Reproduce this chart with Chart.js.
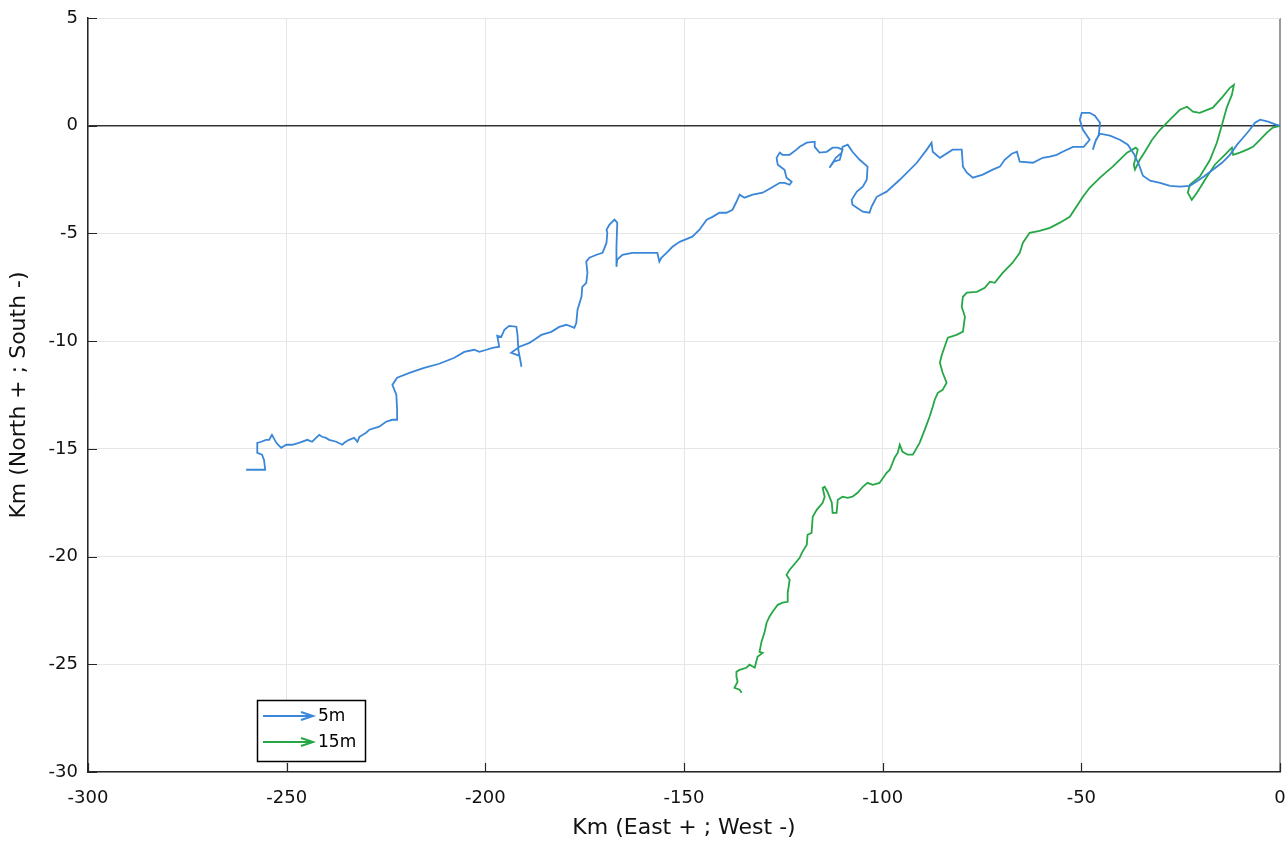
<!DOCTYPE html>
<html><head><meta charset="utf-8">
<script src="https://cdn.jsdelivr.net/npm/chart.js@4.4.1/dist/chart.umd.min.js"></script>
<style>html,body{margin:0;padding:0;background:#fff;}canvas{display:block;}</style>
</head><body>
<canvas id="c" width="1288" height="844"></canvas>
<script>
const seriesNames = ['5m', '15m'];
const xTickValues = [-300, -250, -200, -150, -100, -50, 0];
const yTickValues = [5, 0, -5, -10, -15, -20, -25, -30];
const xTitle = 'Km (East + ; West -)';
const yTitle = 'Km (North + ; South -)';

const blueX = [0,-1.0,-3.0,-5.0,-6.3,-7.6,-9.3,-10.8,-12.6,-14.6,
-16.9,-18.9,-20.7,-22.7,-25.2,-27.7,-30.2,-32.7,-34.5,-35.5,
-36.8,-38.3,-40.3,-42.8,-45.3,-46.3,-47.1,-46.6,-45.6,-45.3,
-46.6,-47.9,-49.9,-50.4,-49.6,-47.9,-49.4,-52.1,-54.7,-56.2,
-57.9,-59.7,-62.2,-65.5,-66.2,-67.5,-69.3,-70.5,-72.3,-74.8,
-77.3,-78.8,-79.8,-80.1,-82.4,-85.6,-87.4,-87.7,-88.9,-91.4,
-95.7,-99.0,-101.5,-102.8,-103.3,-105.0,-107.6,-107.8,-106.5,-105.0,
-104.0,-103.8,-105.8,-107.6,-108.8,-110.1,-110.3,-111.8,-113.4,-112.3,
-110.8,-110.1,-111.3,-112.6,-114.1,-115.9,-117.1,-117.1,-119.1,-120.9,
-121.7,-123.4,-125.2,-125.9,-126.7,-126.4,-124.7,-124.2,-122.9,-123.4,
-124.7,-125.9,-128.0,-130.2,-132.7,-134.8,-136.0,-136.8,-137.8,-139.3,
-141.1,-142.8,-144.3,-146.1,-147.9,-151.1,-152.9,-154.4,-155.7,-156.2,
-156.7,-159.4,-163.0,-165.5,-166.8,-167.0,-167.0,-166.8,-167.5,-168.8,
-169.5,-169.3,-169.5,-170.5,-172.0,-173.8,-174.6,-174.3,-174.6,-175.6,
-175.8,-176.8,-177.1,-177.6,-179.6,-181.4,-183.4,-185.9,-187.7,-188.9,
-191.4,-193.5,-191.4,-190.9,-191.7,-191.9,-192.2,-194.0,-195.2,-196.0,
-197.0,-196.5,-198.2,-199.7,-201.5,-202.8,-205.3,-207.8,-211.6,-215.4,
-219.1,-222.2,-223.4,-222.4,-222.2,-222.2,-223.4,-225.0,-226.7,-229.2,
-230.0,-231.7,-232.2,-233.0,-234.3,-235.5,-236.0,-237.5,-239.3,-240.1,
-241.1,-241.8,-242.6,-243.6,-244.8,-246.9,-248.6,-250.1,-251.4,-252.6,
-253.7,-254.4,-255.2,-256.4,-257.4,-257.4,-256.2,-255.7,-255.4,-256.9,-260.2];
const blueY = [0,0.05,0.19,0.28,0.14,-0.19,-0.56,-0.88,-1.35,-1.72,
-2.04,-2.32,-2.55,-2.79,-2.83,-2.79,-2.65,-2.55,-2.32,-1.81,
-1.30,-0.88,-0.65,-0.46,-0.37,-0.65,-1.11,-0.79,-0.42,0.14,
0.46,0.60,0.60,0.28,-0.19,-0.65,-0.98,-0.98,-1.21,-1.35,
-1.44,-1.49,-1.72,-1.67,-1.21,-1.30,-1.58,-1.90,-2.04,-2.27,
-2.41,-2.18,-1.90,-1.11,-1.11,-1.49,-1.21,-0.79,-1.11,-1.72,
-2.51,-3.06,-3.30,-3.76,-4.04,-3.99,-3.67,-3.44,-3.06,-2.83,
-2.51,-1.90,-1.58,-1.21,-0.88,-0.98,-1.25,-1.49,-1.95,-1.67,
-1.58,-1.11,-1.02,-1.02,-1.21,-1.25,-0.98,-0.74,-0.79,-0.98,
-1.11,-1.35,-1.35,-1.25,-1.49,-1.81,-2.04,-2.41,-2.60,-2.74,
-2.65,-2.65,-2.88,-3.11,-3.20,-3.34,-3.20,-3.53,-3.90,-4.04,
-4.04,-4.23,-4.36,-4.83,-5.15,-5.39,-5.62,-5.90,-6.13,-6.31,
-5.90,-5.90,-5.90,-5.99,-6.22,-6.55,-5.62,-4.50,-4.36,-4.60,
-4.83,-4.97,-5.43,-5.90,-5.99,-6.13,-6.31,-6.83,-7.29,-7.48,
-7.94,-8.54,-9.15,-9.38,-9.24,-9.34,-9.57,-9.71,-9.94,-10.08,
-10.26,-10.54,-10.68,-11.19,-10.40,-9.71,-9.33,-9.29,-9.47,-9.80,
-9.75,-10.26,-10.31,-10.40,-10.50,-10.40,-10.50,-10.77,-11.05,-11.24,
-11.47,-11.70,-12.03,-12.49,-13.19,-13.65,-13.65,-13.74,-13.97,-14.11,
-14.25,-14.44,-14.67,-14.49,-14.58,-14.72,-14.81,-14.67,-14.58,-14.49,
-14.44,-14.35,-14.49,-14.67,-14.58,-14.72,-14.81,-14.81,-14.95,-14.72,
-14.35,-14.58,-14.58,-14.67,-14.72,-15.19,-15.27,-15.51,-15.97,-15.97,-15.97];

const greenX = [0,-1.8,-3.3,-5.0,-6.8,-8.3,-10.1,-11.8,-12.1,-13.9,
-16.4,-18.4,-20.9,-22.2,-23.2,-22.7,-20.2,-17.6,-15.9,-14.6,
-13.4,-12.1,-11.6,-12.6,-14.4,-16.9,-20.2,-21.9,-23.4,-25.2,
-27.7,-30.2,-32.2,-34.0,-35.3,-36.5,-36.8,-35.8,-36.3,-38.5,
-42.1,-45.3,-47.9,-49.6,-52.9,-55.4,-57.9,-60.5,-63.0,-64.7,
-65.5,-67.3,-69.8,-71.8,-73.0,-74.3,-76.3,-78.8,-79.8,-80.1,
-79.3,-79.8,-81.4,-83.6,-84.4,-85.1,-85.6,-84.9,-83.9,-84.9,
-86.1,-86.9,-87.4,-88.2,-89.4,-90.7,-92.4,-93.7,-95.0,-95.7,
-96.2,-97.0,-98.2,-99.0,-100.8,-102.5,-103.8,-105.0,-106.3,-107.6,
-108.8,-110.1,-111.3,-111.6,-112.6,-112.8,-113.9,-114.6,-115.1,-114.6,
-115.1,-116.6,-117.6,-117.9,-118.9,-119.1,-120.2,-120.9,-121.7,-123.4,
-124.2,-123.4,-123.9,-123.9,-125.2,-126.4,-127.7,-128.5,-129.2,-129.7,
-130.5,-131.0,-130.2,-131.5,-132.2,-133.5,-134.3,-136.0,-136.8,-136.8,
-136.5,-137.3,-136.0,-135.5];
const greenY = [0,-0.09,-0.32,-0.65,-0.98,-1.11,-1.25,-1.35,-1.02,-1.35,
-1.81,-2.37,-3.11,-3.44,-3.11,-2.74,-2.37,-1.58,-0.79,0.05,
0.84,1.44,1.90,1.76,1.35,0.84,0.60,0.65,0.88,0.74,
0.28,-0.19,-0.65,-1.21,-1.58,-2.04,-1.81,-1.11,-1.02,-1.25,
-1.90,-2.41,-2.88,-3.30,-4.23,-4.50,-4.74,-4.88,-4.97,-5.43,
-5.90,-6.36,-6.83,-7.29,-7.24,-7.52,-7.71,-7.75,-7.94,-8.40,
-8.87,-9.56,-9.71,-9.84,-10.26,-10.63,-11.00,-11.47,-11.93,-12.26,
-12.40,-12.72,-13.05,-13.51,-14.11,-14.72,-15.27,-15.27,-15.14,-14.81,
-15.18,-15.41,-15.97,-16.11,-16.58,-16.67,-16.58,-16.76,-17.04,-17.22,
-17.27,-17.22,-17.36,-17.97,-17.97,-17.50,-16.99,-16.76,-16.81,-17.22,
-17.50,-17.83,-18.15,-18.90,-18.99,-19.45,-19.78,-20.06,-20.24,-20.61,
-20.85,-21.08,-21.68,-22.10,-22.14,-22.24,-22.56,-22.79,-23.07,-23.49,
-23.96,-24.42,-24.47,-24.65,-25.16,-25.02,-25.16,-25.26,-25.35,-25.58,
-25.81,-26.09,-26.18,-26.32];

const FONT = '"DejaVu Sans", "Liberation Sans", Arial, sans-serif';
const toPoints = (xs, ys) => xs.slice(0, Math.min(xs.length, ys.length)).map((x, i) => ({x: x, y: ys[i]}));

const inwardTicks = {
  id: 'inwardTicks',
  afterDraw(chart) {
    const {ctx, chartArea: a, scales: {x, y}} = chart;
    ctx.save();
    ctx.strokeStyle = '#262626';
    ctx.lineWidth = 1.2;
    ctx.beginPath();
    x.ticks.forEach(t => {
      const px = Math.round(x.getPixelForValue(t.value)) + 0.5;
      ctx.moveTo(px, a.bottom); ctx.lineTo(px, a.bottom - 9);
    });
    y.ticks.forEach(t => {
      const py = Math.round(y.getPixelForValue(t.value)) + 0.5;
      ctx.moveTo(a.left, py); ctx.lineTo(a.left + 9, py);
    });
    ctx.stroke();
    ctx.restore();
  }
};

const arrowLegend = {
  id: 'arrowLegend',
  afterDraw(chart) {
    const {ctx, chartArea: a} = chart;
    const bx = a.left + 169, by = a.bottom - 72, bw = 108, bh = 61;
    ctx.save();
    ctx.fillStyle = '#fff';
    ctx.fillRect(bx, by, bw, bh);
    ctx.strokeStyle = '#000';
    ctx.lineWidth = 1.5;
    ctx.strokeRect(bx + 0.5, by + 0.5, bw, bh);
    chart.data.datasets.forEach((ds, i) => {
      const yy = by + 16 + i * 26;
      const x0 = bx + 6, x1 = bx + 56;
      ctx.strokeStyle = ds.borderColor;
      ctx.lineWidth = 2;
      ctx.beginPath(); ctx.moveTo(x0, yy); ctx.lineTo(x1, yy); ctx.stroke();
      ctx.beginPath(); ctx.moveTo(x1 - 12, yy - 4); ctx.lineTo(x1, yy); ctx.lineTo(x1 - 12, yy + 4); ctx.stroke();
      ctx.fillStyle = '#000';
      ctx.font = '17px ' + FONT;
      ctx.textBaseline = 'middle';
      ctx.textAlign = 'left';
      ctx.fillText(ds.label, x1 + 5, yy + 1);
    });
    ctx.restore();
  }
};

new Chart(document.getElementById('c'), {
  type: 'scatter',
  data: {
    datasets: [
      {label: seriesNames[0], data: toPoints(blueX, blueY), showLine: true, borderColor: '#3a86d8', borderWidth: 1.8, pointRadius: 0, fill: false, tension: 0},
      {label: seriesNames[1], data: toPoints(greenX, greenY), showLine: true, borderColor: '#25a746', borderWidth: 1.8, pointRadius: 0, fill: false, tension: 0}
    ]
  },
  options: {
    responsive: false,
    animation: false,
    devicePixelRatio: 1,
    layout: {padding: {top: 18, right: 8, left: 0, bottom: 0}},
    plugins: {legend: {display: false}, tooltip: {enabled: false}},
    scales: {
      x: {
        type: 'linear', min: -300, max: 0,
        afterBuildTicks: s => { s.ticks = xTickValues.map(v => ({value: v})); },
        afterFit: s => { s.height = 72; s.paddingLeft = 0; s.paddingRight = 0; },
        grid: {
          color: c => (c.tick && c.tick.value === 0) ? '#9a9a9a' : '#e6e6e6',
          lineWidth: c => (c.tick && c.tick.value === 0) ? 2 : 1,
          drawTicks: false
        },
        border: {display: true, color: '#262626', width: 1.5},
        ticks: {font: {size: 18, family: FONT}, color: '#111', padding: 16, maxRotation: 0,
          callback: v => String(v)},
        title: {display: true, text: xTitle, font: {size: 22, family: FONT}, color: '#111', padding: {top: 0, bottom: 3}}
      },
      y: {
        type: 'linear', min: -30, max: 5,
        afterBuildTicks: s => { s.ticks = yTickValues.map(v => ({value: v})); },
        afterFit: s => { s.width = 88; s.paddingTop = 0; s.paddingBottom = 0; },
        grid: {
          color: c => (c.tick && c.tick.value === 0) ? '#333333' : '#e6e6e6',
          lineWidth: c => (c.tick && c.tick.value === 0) ? 1.6 : 1,
          drawTicks: false
        },
        border: {display: true, color: '#262626', width: 1.5},
        ticks: {font: {size: 18, family: FONT}, color: '#111', padding: 10,
          callback: v => String(v)},
        title: {display: true, text: yTitle, font: {size: 22, family: FONT}, color: '#111', padding: {top: 6, bottom: 0}}
      }
    }
  },
  plugins: [inwardTicks, arrowLegend]
});
</script>
</body></html>
